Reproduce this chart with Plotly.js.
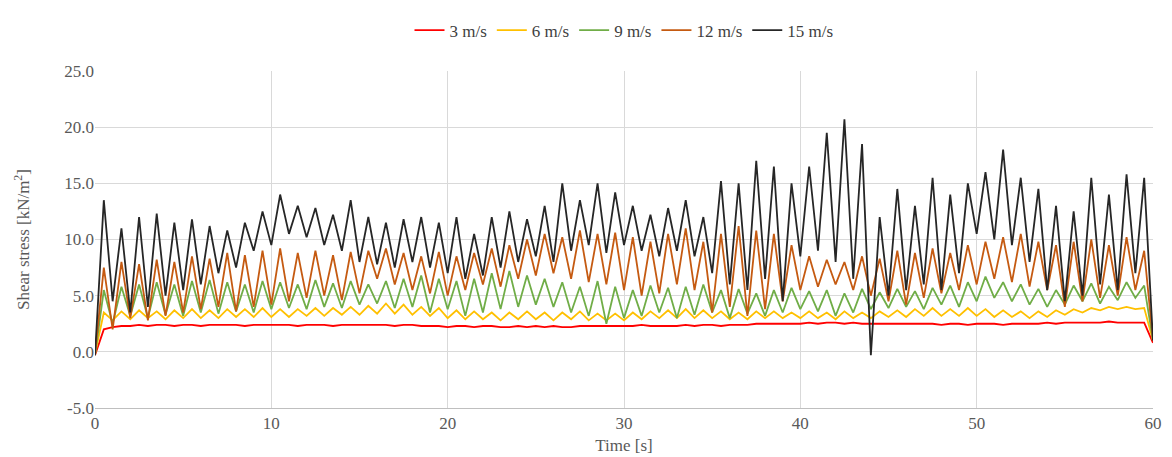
<!DOCTYPE html>
<html>
<head>
<meta charset="utf-8">
<script src="https://cdn.plot.ly/plotly-3.0.1.min.js"></script>
<style>body{margin:0;background:#fff}#chart{width:1172px;height:457px}</style>
</head>
<body>
<div id="chart"></div>
<script>
// shear stress every 0.5 s, 0..60 s
let s3 = [-0.3,2.0,2.2,2.3,2.3,2.4,2.3,2.4,2.4,2.3,
  2.4,2.4,2.3,2.4,2.4,2.4,2.4,2.3,2.4,2.4,
  2.4,2.4,2.4,2.3,2.4,2.4,2.4,2.3,2.4,2.4,
  2.4,2.4,2.4,2.4,2.3,2.4,2.4,2.3,2.3,2.3,
  2.2,2.3,2.3,2.2,2.3,2.3,2.2,2.2,2.3,2.2,
  2.3,2.2,2.3,2.2,2.2,2.3,2.3,2.3,2.3,2.3,
  2.3,2.3,2.4,2.3,2.3,2.3,2.3,2.4,2.3,2.4,
  2.4,2.3,2.4,2.4,2.4,2.5,2.5,2.5,2.5,2.5,
  2.5,2.6,2.5,2.6,2.6,2.5,2.6,2.5,2.5,2.5,
  2.5,2.5,2.5,2.5,2.5,2.5,2.4,2.5,2.5,2.4,
  2.5,2.5,2.5,2.4,2.5,2.5,2.5,2.5,2.6,2.5,
  2.6,2.6,2.6,2.6,2.6,2.7,2.6,2.6,2.6,2.6,
  0.8];
let s6 = [-0.2,3.5,2.8,3.6,2.9,3.7,3.0,3.6,2.9,3.7,
  3.0,3.8,3.0,3.7,3.0,3.8,3.1,3.8,3.1,3.9,
  3.1,3.8,3.1,3.8,3.2,3.9,3.2,3.9,3.3,4.0,
  3.3,4.1,3.4,4.3,3.4,4.2,3.3,4.0,3.2,3.9,
  3.0,3.7,2.9,3.6,2.9,3.5,2.8,3.5,2.9,3.6,
  2.9,3.5,2.8,3.5,2.9,3.6,2.8,3.4,2.8,3.4,
  2.8,3.5,2.9,3.6,3.0,3.7,3.0,3.8,3.0,3.7,
  3.0,3.6,2.9,3.5,2.9,3.6,3.0,3.6,3.0,3.5,
  3.0,3.6,3.0,3.5,2.9,3.6,3.0,3.5,3.0,3.6,
  3.1,3.7,3.1,3.8,3.2,3.9,3.2,3.8,3.2,3.9,
  3.2,3.8,3.1,3.7,3.1,3.6,3.0,3.6,3.1,3.7,
  3.3,3.8,3.5,3.9,3.7,4.0,3.8,4.0,3.8,3.9,
  1.0];
let s9 = [-0.3,5.5,2.5,5.8,3.2,6.0,3.0,6.2,3.3,6.0,
  3.2,6.3,3.5,6.4,3.4,6.2,3.6,6.0,3.5,6.3,
  3.8,6.2,3.9,6.0,3.8,6.4,4.0,6.1,3.9,6.3,
  4.2,6.0,4.3,6.3,3.9,6.5,4.0,6.8,3.5,6.5,
  3.8,6.3,3.2,6.5,3.5,7.0,3.8,7.2,4.0,6.8,
  4.2,6.5,4.0,6.2,3.5,5.8,3.2,6.3,2.5,5.8,
  3.0,5.5,3.2,5.9,3.5,5.7,3.0,5.8,3.3,6.0,
  3.5,5.5,3.0,5.6,3.4,5.2,3.2,5.5,3.5,5.7,
  3.8,5.4,3.6,5.5,3.2,5.2,3.5,5.6,3.8,5.3,
  3.9,5.6,4.0,5.4,3.8,5.7,4.2,5.9,4.0,6.2,
  4.5,6.7,4.8,6.2,4.5,6.0,4.2,5.6,4.0,5.5,
  4.2,5.9,4.5,6.1,4.3,5.8,4.6,6.2,4.8,5.9,
  1.0];
let s12 = [-0.2,7.5,2.0,8.0,3.0,7.8,2.8,8.2,3.2,8.0,
  3.5,8.5,3.8,8.3,4.0,8.8,3.6,8.6,4.0,9.0,
  4.2,9.2,4.5,8.8,4.8,9.0,5.0,8.6,4.6,8.9,
  5.2,9.0,6.5,9.2,6.0,8.8,5.5,8.5,5.2,8.9,
  5.0,8.5,5.5,8.8,6.0,9.2,5.8,9.5,6.5,10.0,
  6.8,10.5,7.0,10.2,6.5,10.8,6.2,10.5,6.0,10.6,
  5.5,10.2,5.0,9.8,5.2,10.5,6.0,11.0,5.5,9.8,
  3.5,10.5,4.0,11.2,3.2,10.8,3.8,10.5,4.5,9.5,
  5.5,8.5,5.8,8.2,6.0,8.0,5.5,8.5,5.0,8.3,
  4.5,9.0,4.2,8.8,4.8,9.2,5.2,8.8,5.5,9.5,
  6.0,9.8,6.5,10.2,6.2,10.5,5.8,9.8,5.5,9.5,
  4.0,9.8,4.5,10.0,4.8,9.5,5.0,10.2,5.5,9.0,
  1.0];
let s15 = [-0.3,13.5,4.5,11.0,3.5,12.0,4.0,12.3,5.0,11.5,
  5.5,11.8,6.0,11.2,7.0,10.8,7.5,11.5,9.0,12.5,
  9.5,14.0,10.5,13.0,10.2,12.8,9.5,12.2,9.0,13.5,
  8.0,12.0,7.8,11.5,7.5,11.8,8.0,12.0,7.5,11.5,
  7.0,12.0,6.5,10.5,6.8,12.0,7.5,12.5,8.0,11.8,
  8.5,13.0,8.0,15.0,9.0,13.5,9.5,15.0,8.8,14.2,
  9.5,13.0,9.0,12.2,8.5,12.8,9.0,13.5,8.5,12.0,
  7.0,15.2,6.0,15.0,5.5,17.0,6.5,16.5,4.5,15.0,
  8.5,16.5,9.0,19.5,8.0,20.7,6.5,18.5,-0.3,12.0,
  5.0,14.5,5.5,13.0,6.0,15.5,5.5,14.0,7.0,15.0,
  10.5,16.0,10.0,18.0,9.5,15.5,8.0,14.5,5.5,13.0,
  4.5,12.5,5.0,15.5,6.0,14.0,5.5,15.8,7.0,15.5,
  1.0];
let time = s3.map((v, i) => i * 0.5);

let names = ["3 m/s", "6 m/s", "9 m/s", "12 m/s", "15 m/s"];
let colors = ["#FF0000", "#FFC000", "#70AD47", "#C55A11", "#262626"];
let series = [s3, s6, s9, s12, s15];
let yTicks = [-5, 0, 5, 10, 15, 20, 25];
let yTickText = ["-5.0", "0.0", "5.0", "10.0", "15.0", "20.0", "25.0"];

let traces = series.map((s, i) => ({
  x: time, y: s, mode: "lines", name: names[i],
  line: { color: colors[i], width: 1.8 }
}));

let serif = "Liberation Serif";
let axisFont = { family: serif, size: 17, color: "#595959" };

Plotly.newPlot("chart", traces, {
  width: 1172, height: 457,
  margin: { l: 95, r: 19, t: 60, b: 49 },
  paper_bgcolor: "#fff", plot_bgcolor: "#fff",
  font: axisFont,
  showlegend: true,
  legend: { orientation: "h", x: 0.5, xanchor: "center", y: 1.12, yanchor: "middle",
    font: { family: serif, size: 17, color: "#404040" } },
  xaxis: { range: [0, 60], dtick: 10, showgrid: true, gridcolor: "#d9d9d9", zeroline: false,
    showline: true, linecolor: "#bfbfbf", ticks: "", tickfont: axisFont,
    title: { text: "Time [s]", font: axisFont, standoff: 6 } },
  yaxis: { range: [-5, 25], tickvals: yTicks, ticktext: yTickText, showgrid: true, gridcolor: "#d9d9d9",
    zeroline: false, showline: false, ticks: "", tickfont: axisFont,
    title: { text: "Shear stress [kN/m<sup>2</sup>]", font: axisFont, standoff: 30 } }
}, { staticPlot: true, displayModeBar: false });
</script>
</body>
</html>
